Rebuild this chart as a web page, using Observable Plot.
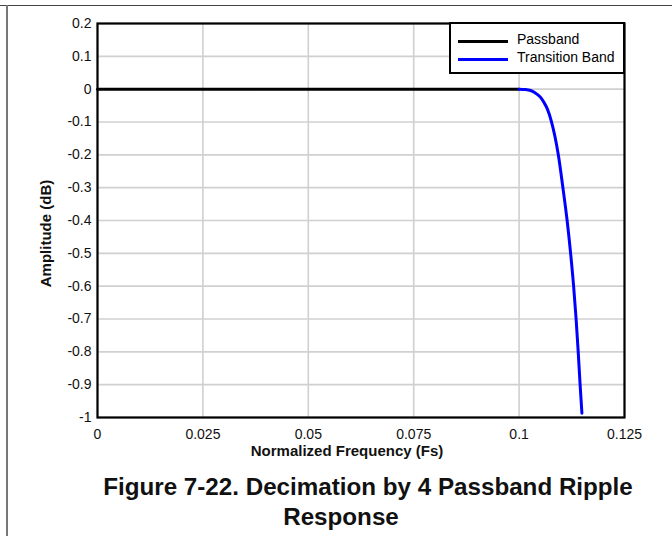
<!DOCTYPE html>
<html>
<head>
<meta charset="utf-8">
<script src="https://cdn.jsdelivr.net/npm/d3@7"></script>
<script src="https://cdn.jsdelivr.net/npm/@observablehq/plot@0.6"></script>
<style>
  html, body { margin: 0; padding: 0; background: #fff; }
  body { width: 672px; height: 536px; position: relative; overflow: hidden; font-family: "Liberation Sans", Arial, sans-serif; }
  #topline { position: absolute; left: 0; top: 5px; width: 672px; height: 0; border-top: 1.5px solid #444; }
  #leftline { position: absolute; left: 6px; top: 5px; width: 0; height: 540px; border-left: 2px solid #777; }
  #chart { position: absolute; left: 0; top: 0; }
  #legend { position: absolute; left: 449px; top: 22px; width: 172px; height: 48px; border: 2px solid #000; background: #fff; font-size: 14px; color: #000; }
  .lg { position: absolute; left: 7px; height: 16px; display: flex; align-items: center; }
  .sw { width: 50px; height: 0; border-top: 3px solid; margin-right: 9px; position: relative; top: 2px; }
  .title { position: absolute; font-weight: bold; font-size: 24.2px; color: #111; white-space: nowrap; transform: translateX(-50%); }
</style>
</head>
<body>
<div id="topline"></div>
<div id="leftline"></div>
<div id="chart"></div>
<div id="legend"></div>
<div class="title" id="t1" style="left:368px; top:473px;"></div>
<div class="title" id="t2" style="left:341px; top:503px;"></div>
<script>
// ---- data ----
const passbandFreq = [0, 0.01, 0.02, 0.03, 0.04, 0.05, 0.06, 0.07, 0.08, 0.09, 0.1];
const passbandDb   = [0, 0, 0, 0, 0, 0, 0, 0, 0, 0, 0];
const transitionFreq = [0.1, 0.1015, 0.10273, 0.10368, 0.1051, 0.10588, 0.10669, 0.10759, 0.1093, 0.11039, 0.11139, 0.11222, 0.11293, 0.11352, 0.11402, 0.11447, 0.1149];
const transitionDb   = [0, -0.001, -0.004, -0.01, -0.025, -0.04, -0.06, -0.095, -0.2, -0.3, -0.4, -0.5, -0.6, -0.7, -0.8, -0.9, -0.987];
const xTicks = [0, 0.025, 0.05, 0.075, 0.1, 0.125];
const xTickLabels = ["0", "0.025", "0.05", "0.075", "0.1", "0.125"];
const yTicks = [0.2, 0.1, 0, -0.1, -0.2, -0.3, -0.4, -0.5, -0.6, -0.7, -0.8, -0.9, -1];
const yTickLabels = ["0.2", "0.1", "0", "-0.1", "-0.2", "-0.3", "-0.4", "-0.5", "-0.6", "-0.7", "-0.8", "-0.9", "-1"];
const seriesNames = ["Passband", "Transition Band"];
const seriesColors = ["#000000", "#0000ff"];
const xLabel = "Normalized Frequency (Fs)";
const yLabel = "Amplitude (dB)";
const titleLines = ["Figure 7-22. Decimation by 4 Passband Ripple", "Response"];

const passband = passbandFreq.map((f, i) => ({f, db: passbandDb[i]}));
const transition = transitionFreq.map((f, i) => ({f, db: transitionDb[i]}));

const plot = Plot.plot({
  width: 672,
  height: 462,
  marginLeft: 97,
  marginRight: 48,
  marginTop: 23,
  marginBottom: 45,
  style: {fontFamily: "'Liberation Sans', Arial, sans-serif", fontSize: "14px", color: "#000", background: "transparent"},
  x: {domain: [0, 0.125]},
  y: {domain: [-1, 0.2]},
  marks: [
    Plot.gridX(xTicks, {stroke: "#d0d0d0", strokeOpacity: 1, strokeWidth: 1.6}),
    Plot.gridY(yTicks, {stroke: "#d0d0d0", strokeOpacity: 1, strokeWidth: 1.6}),
    Plot.axisX({ticks: xTicks, tickSize: 0, tickPadding: 12, tickFormat: (d) => xTickLabels[xTicks.indexOf(d)], label: null, fontSize: 14, fill: "#111"}),
    Plot.axisY({ticks: yTicks, tickSize: 0, tickPadding: 6, tickFormat: (d) => yTickLabels[yTicks.indexOf(d)], label: null, fontSize: 14, fill: "#111"}),
    Plot.line(passband, {x: "f", y: "db", stroke: seriesColors[0], strokeWidth: 3}),
    Plot.line(transition, {x: "f", y: "db", stroke: seriesColors[1], strokeWidth: 3, curve: "monotone-x"}),
    Plot.frame({stroke: "#000", strokeWidth: 2.2}),
    Plot.text([xLabel], {frameAnchor: "bottom", dy: 38, dx: -14, fontWeight: "bold", fontSize: 15, fill: "#111"}),
    Plot.text([yLabel], {frameAnchor: "left", textAnchor: "middle", rotate: -90, dx: -51, dy: 13, fontWeight: "bold", fontSize: 15, fill: "#111"})
  ]
});
document.getElementById("chart").appendChild(plot);

const legend = document.getElementById("legend");
seriesNames.forEach((name, i) => {
  const row = document.createElement("div");
  row.className = "lg";
  row.style.top = (7 + i * 18) + "px";
  const sw = document.createElement("div");
  sw.className = "sw";
  sw.style.borderTopColor = seriesColors[i];
  const tx = document.createElement("span");
  tx.textContent = name;
  row.appendChild(sw);
  row.appendChild(tx);
  legend.appendChild(row);
});
document.getElementById("t1").textContent = titleLines[0];
document.getElementById("t2").textContent = titleLines[1];
</script>
</body>
</html>
